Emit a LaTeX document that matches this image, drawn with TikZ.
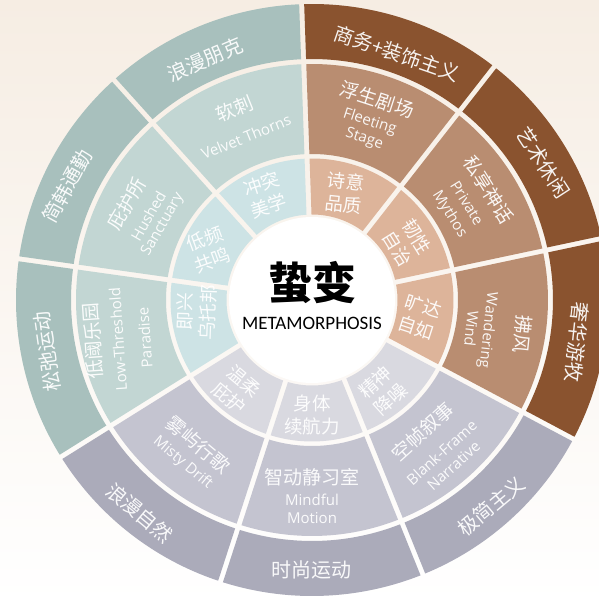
\documentclass[tikz,border=0pt]{standalone}
\usepackage{fontspec}
\setmainfont{Noto Sans CJK SC}
\newfontfamily\cjkf{Noto Sans CJK SC}
\newfontfamily\enf{Open Sans}
\newfontfamily\titlef{Carlito}
\definecolor{bgtop}{HTML}{F6EDE3}
\definecolor{tealO}{HTML}{A8C0BD}
\definecolor{tealM}{HTML}{C2D6D3}
\definecolor{tealI}{HTML}{CDE3E5}
\definecolor{brownO}{HTML}{8A532F}
\definecolor{brownM}{HTML}{B98D71}
\definecolor{brownI}{HTML}{DDB49A}
\definecolor{greyO}{HTML}{ABABBA}
\definecolor{greyM}{HTML}{C4C4D0}
\definecolor{greyI}{HTML}{D9D9E0}
\newcommand{\ringsec}[5]{%
  \pgfmathsetmacro{\rsA}{#1+asin(2.5/#3)}%
  \pgfmathsetmacro{\rsB}{#1+asin(2.5/#4)}%
  \pgfmathsetmacro{\rsC}{#2-asin(2.5/#4)}%
  \pgfmathsetmacro{\rsD}{#2-asin(2.5/#3)}%
  \fill[#5] (\rsA:#3pt) -- (\rsB:#4pt) arc[start angle=\rsB, end angle=\rsC, radius=#4pt] -- (\rsD:#3pt) arc[start angle=\rsD, end angle=\rsA, radius=#3pt] -- cycle;}
\tikzset{
  lbl/.style={text=white, text opacity=0.93, inner sep=0pt},
  outl/.style={lbl, font=\cjkf\fontsize{20}{22}\selectfont},
  midcn/.style={lbl, font=\cjkf\fontsize{19}{21}\selectfont, transform shape},
  miden/.style={lbl, font=\enf\fontsize{15}{17}\selectfont, transform shape},
  inl/.style={lbl, font=\cjkf\fontsize{18.5}{23}\selectfont, align=center},
}
\begin{document}
\begin{tikzpicture}[x=1pt,y=1pt]
\useasboundingbox (-312,300) rectangle (287,-302);
\clip (-312,300) rectangle (287,-302);
\shade[top color=bgtop, bottom color=white] (-312,300) rectangle (287,-302);
% sectors
\foreach \k/\gO/\gM/\gI in {0/brownO/brownM/brownI, 1/brownO/brownM/brownI, 2/tealO/tealM/tealI, 3/tealO/tealM/tealI, 4/tealO/tealM/tealI, 5/greyO/greyM/greyI, 6/greyO/greyM/greyI, 7/greyO/greyM/greyI, 8/brownO/brownM/brownI}{
  \pgfmathsetmacro{\aS}{12+40*\k}
  \pgfmathsetmacro{\aE}{52+40*\k}
  \ringsec{\aS}{\aE}{241}{296}{\gO}
  \ringsec{\aS}{\aE}{146}{236}{\gM}
  \ringsec{\aS}{\aE}{85.5}{141.5}{\gI}
}
\fill[white] (0,0) circle (83pt);
% center
\node[font=\cjkf\bfseries\fontsize{44}{48}\selectfont, inner sep=0pt] (ctitle) at (1,17) {蛰变};
\node[font=\titlef\fontsize{19}{21}\selectfont, inner sep=0pt] (csub) at (0,-23) {METAMORPHOSIS};
% outer ring labels
\node[outl, rotate=23]  (o1) at (114:263pt) {浪漫朋克};
\node[outl, rotate=-19] (o2) at (71:261pt)  {商务+装饰主义};
\node[outl, rotate=-57] (o3) at (30.7:269pt) {艺术休闲};
\node[outl, rotate=-96] (o4) at (-9:268pt)  {奢华游牧};
\node[outl, rotate=40]  (o5) at (-49:273pt) {极简主义};
\node[outl, rotate=0]   (o6) at (270:270pt) {时尚运动};
\node[outl, rotate=-40] (o7) at (231:274pt) {浪漫自然};
\node[outl, rotate=98]  (o8) at (191:270pt) {松弛运动};
\node[outl, rotate=61]  (o9) at (155:270pt) {简韩通勤};
% middle ring labels
\begin{scope}[shift={(112:190pt)}, rotate=22]
  \node[midcn] (m1c) at (0,16) {软刺};
  \node[miden] (m1e) at (0,-14) {Velvet Thorns};
\end{scope}
\begin{scope}[shift={(72:190pt)}, rotate=-18]
  \node[midcn] (m2c) at (0,21) {浮生剧场};
  \node[miden] (m2e1) at (0,-3) {Fleeting};
  \node[miden] (m2e2) at (0,-21) {Stage};
\end{scope}
\begin{scope}[shift={(32:187pt)}, rotate=-58]
  \node[midcn] (m3c) at (0,21) {私享神话};
  \node[miden] (m3e1) at (0,-4) {Private};
  \node[miden] (m3e2) at (0,-25) {Mythos};
\end{scope}
\begin{scope}[shift={(350.5:192pt)}, rotate=-96]
  \node[midcn] (m4c) at (0,21) {拂风};
  \node[miden] (m4e1) at (0,-14) {Wandering};
  \node[miden] (m4e2) at (0,-30) {Wind};
\end{scope}
\begin{scope}[shift={(310.3:192pt)}, rotate=42]
  \node[midcn] (m5c) at (0,20) {空帧叙事};
  \node[miden] (m5e1) at (0,-8) {Blank-Frame};
  \node[miden] (m5e2) at (0,-26) {Narrative};
\end{scope}
\begin{scope}[shift={(270:195pt)}, rotate=0]
  \node[midcn] (m6c) at (0,18) {智动静习室};
  \node[miden] (m6e1) at (0,-5) {Mindful};
  \node[miden] (m6e2) at (0,-23) {Motion};
\end{scope}
\begin{scope}[shift={(231.7:196pt)}, rotate=-40]
  \node[midcn] (m7c) at (0,12) {雾屿行歌};
  \node[miden] (m7e) at (0,-12) {Misty Drift};
\end{scope}
\begin{scope}[shift={(191.5:197pt)}, rotate=94]
  \node[midcn] (m8c) at (0,26) {低阈乐园};
  \node[miden] (m8e1) at (0,1) {Low-Threshold};
  \node[miden] (m8e2) at (0,-26) {Paradise};
\end{scope}
\begin{scope}[shift={(152.8:190pt)}, rotate=60]
  \node[midcn] (m9c) at (0,19) {庇护所};
  \node[miden] (m9e1) at (0,-6) {Hushed};
  \node[miden] (m9e2) at (0,-23) {Sanctuary};
\end{scope}
% inner ring labels
\node[inl, rotate=18]  (i1) at (114:115pt) {冲突\\美学};
\node[inl, rotate=-6]  (i2) at (73:112pt)  {诗意\\品质};
\node[inl, rotate=-58] (i3) at (31:111pt)  {韧性\\自治};
\node[inl, rotate=-18] (i4) at (351:109pt) {旷达\\自如};
\node[inl, rotate=42]  (i5) at (308:115pt) {精神\\降噪};
\node[inl, rotate=0]   (i6) at (270:115pt) {身体\\续航力};
\node[inl, rotate=-40] (i7) at (230:117pt) {温柔\\庇护};
\node[inl, rotate=88]  (i8) at (186:116pt) {即兴\\乌托邦};
\node[inl, rotate=20]  (i9) at (154:115pt) {低频\\共鸣};
\end{tikzpicture}
\end{document}
